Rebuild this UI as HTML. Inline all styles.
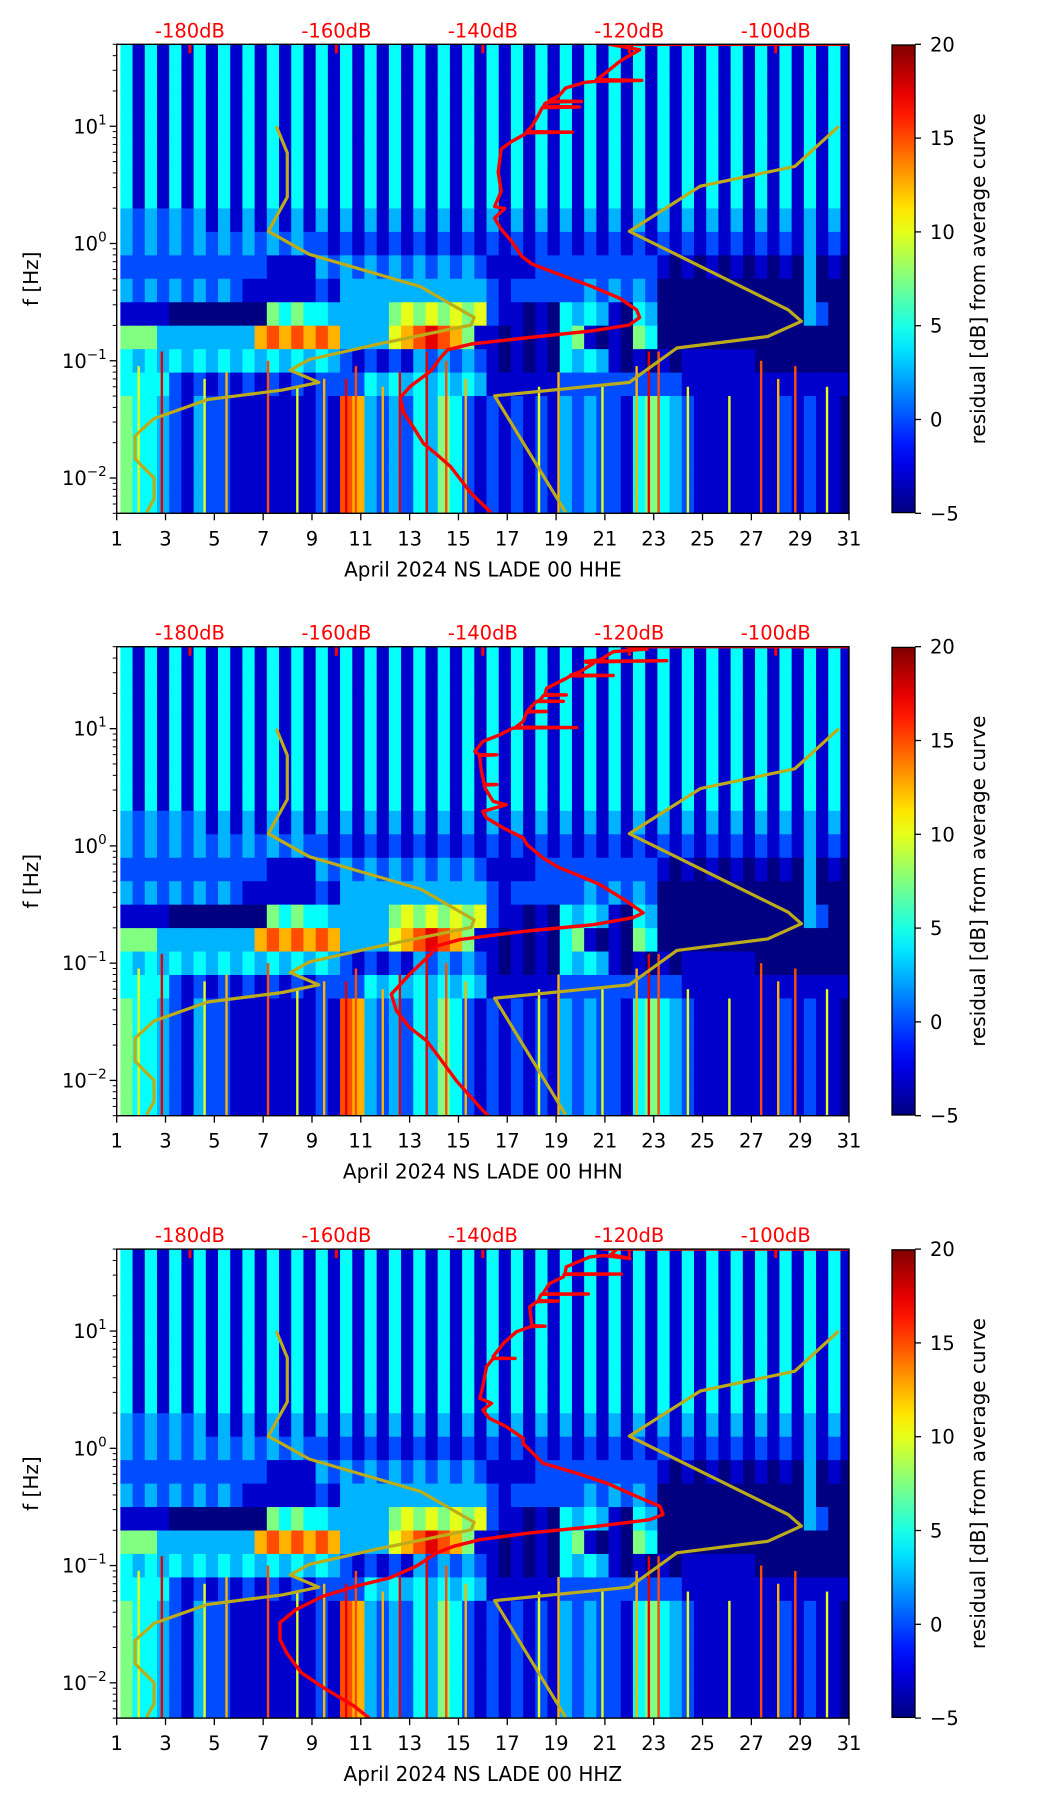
<!DOCTYPE html>
<html><head><meta charset="utf-8">
<style>
html,body{margin:0;padding:0;background:#fff;}
svg{display:block;font-family:"DejaVu Sans","Liberation Sans",sans-serif;}
</style></head>
<body>
<svg id="fig" width="1052" height="1806" viewBox="0 0 1052 1806" xmlns="http://www.w3.org/2000/svg">
<rect x="0" y="0" width="1052" height="1806" fill="#fff"/>
</svg>
<script>
// ---------- data ----------
const channels = ["HHE","HHN","HHZ"];
const dbLabels = [-180,-160,-140,-120,-100];
const xTicks = [1,3,5,7,9,11,13,15,17,19,21,23,25,27,29,31];
const yMajor = [0.01,0.1,1,10];
const yMajorExp = ["−2","−1","0","1"];
const cbTicks = [20,15,10,5,0,-5];
// spectrogram grid: 20 rows (0.2 decade each, top=50Hz) x 60 half-day columns, level 0-9
const specRows = [
"414141414141414141414141414141414141414141414141414141414141",
"414141414141414141414141414141414141414141414141414141414141",
"414141414141414141414141414141414141414141414141414141414141",
"414141414141414141414141414141414141414141414141414141414141",
"414141414141414141414141414141414141414141414141414141414141",
"414141414141414141414141414141414141414141414141414141414141",
"414141414141414141414141414141414141414141414141414141414141",
"323232313131313131313131313131313131313131313131313131313131",
"323232323232323221212121212121212121212121212121212121213121",
"222222222222111132323232323232111122222222221010101010103010",
"323232323211111121333333333333212222223232320000000000003000",
"111100000000545443333356565656211010434310430000000000003200",
"555333333337878787333367898751101010451010540000000000000000",
"434343434343434343212121323232101010434310101011111100000000",
"444421212121212122224343434343111111222222222211111111111111",
"544321322111111121873232435421212121323221454321111111212110",
"544321322111111121873232435421212121323221454321111111212110",
"544321322111111121873232435421212121323221454321111111212110",
"544321322111111121873232435421212121323221454321111111212110",
"544321322111111121873232435421212121323221454321111111212110"
];
const levelT = [0,0.075,0.2,0.3,0.38,0.5,0.6,0.7,0.8,0.9];
const streakDay = [1.9,2.85,4.6,5.5,7.2,8.4,9.5,10.4,10.8,11.9,12.6,13.7,14.5,15.3,18.3,19.1,20.9,22.3,22.8,23.2,24.4,26.1,27.4,28.1,28.8,30.1];
const streakLevel = [6,9,6,7,8,6,7,9,8,7,9,9,8,7,6,7,6,7,9,8,6,6,8,7,8,6];
const streakTop = [0.09,0.12,0.07,0.08,0.1,0.06,0.07,0.07,0.09,0.06,0.08,0.12,0.1,0.07,0.06,0.08,0.06,0.09,0.12,0.12,0.06,0.05,0.1,0.07,0.09,0.06];
// Peterson NLNM / NHNM (dB, Hz)
const nlnmDb = [-168.2,-166.7,-166.7,-169.3,-163.7,-148.5,-141.2,-141.6,-154.5,-163.7,-166.3,-162.4,-167.4,-177.6,-184.9,-187.5,-187.5,-184.9,-184.9,-185.9];
const nlnmHz = [10,5.92,2.49,1.27,0.809,0.428,0.234,0.202,0.138,0.1025,0.0831,0.0654,0.0562,0.0466,0.0321,0.0229,0.0146,0.01,0.00662,0.0051];
const nhnmDb = [-91.4,-97.4,-110.3,-120.0,-98.3,-96.5,-101.1,-113.5,-120.0,-138.4,-128.7];
const nhnmHz = [10,4.55,3.08,1.27,0.272,0.217,0.161,0.1285,0.0654,0.0502,0.0051];
// average curves per channel
const redDb1 = [-90,-122.7,-118.6,-121.3,-123.2,-124.5,-118.3,-124.5,-126,-128.7,-129.6,-131,-126.5,-131,-131.5,-131.7,-126.8,-131.9,-132.4,-133.3,-134,-127.8,-134.1,-134.2,-136.1,-137.5,-137.9,-137.5,-138.4,-137,-138.4,-137.5,-136.1,-134.7,-133.3,-130.6,-127.8,-125,-121.3,-119,-118.6,-120,-125,-132.4,-141.6,-144.8,-145.8,-147.1,-149.9,-151.3,-150.8,-149.4,-148.1,-146.2,-144.4,-141.6,-138.9];
const redHz1 = [50,50,44.9,35.8,28.6,25,24.6,24.2,23.7,21.2,18.2,16.5,16.3,16.1,15.7,14.8,14.6,14.4,12.5,10,9.0,8.9,8.8,8.6,7.4,6.4,4.06,2.79,2.07,1.99,1.65,1.32,1.05,0.778,0.67,0.576,0.496,0.427,0.341,0.272,0.234,0.202,0.18,0.161,0.139,0.124,0.106,0.0818,0.0607,0.0484,0.0359,0.0266,0.0197,0.0157,0.0125,0.0074,0.0051];
const redDb2 = [-90,-120.4,-119,-117.6,-122.2,-124,-126,-114.9,-126,-124.9,-126.7,-128,-122.2,-128,-128.6,-131.3,-131.5,-128.6,-131.7,-132.2,-132.5,-129,-132.7,-133.6,-133.9,-131.3,-134,-134.5,-135.5,-127.2,-135.7,-135.9,-137.7,-140,-141.1,-140.5,-138.1,-140.5,-140.4,-140.2,-139.8,-138.1,-139.8,-139.7,-138.6,-136.8,-140,-139.5,-137.2,-134.5,-134,-131.8,-129.5,-127.2,-124,-120.4,-118.1,-119.5,-124.9,-134,-143.1,-146.3,-147.2,-150,-152.5,-151.8,-150,-147.7,-146.3,-143.6,-140.4,-139.3];
const redHz2 = [50,50,50,47.8,45.3,38.5,37.5,38,37,36,30.6,28.6,28.4,28.2,26.9,22.1,19.6,19.4,19.2,17.6,17.2,17.1,17,14.9,14.1,14,13.9,11.5,10.3,10.2,10.1,10.1,8.86,7.77,6.38,6.0,5.99,5.9,5.6,4.32,3.35,3.33,3.3,3.12,2.4,2.24,1.97,1.73,1.42,1.17,1.03,0.79,0.649,0.569,0.468,0.338,0.269,0.244,0.213,0.188,0.159,0.14,0.118,0.0803,0.0543,0.0392,0.0283,0.0218,0.0168,0.0099,0.0059,0.005];
const redDb3 = [-90,-123.6,-121.7,-122.5,-119.9,-123.5,-125.4,-128.6,-128.8,-121.1,-128.9,-129,-130.9,-131.8,-125.6,-132,-132.2,-132.4,-129.7,-132.6,-133.6,-133.4,-133.3,-131.5,-133.5,-135.4,-137.2,-138.6,-138.4,-135.6,-138.6,-139.5,-140,-140.4,-138.8,-140,-139.1,-136.8,-134.5,-134.5,-131.8,-127.2,-123.1,-119,-115.8,-115.4,-117.2,-124.5,-133.6,-140.4,-144,-146.3,-149.1,-152.7,-157.3,-161.8,-165.5,-167.7,-167.7,-166.8,-164.8,-161.4,-157.7,-155.5];
const redHz3 = [50,50,50,45,41.5,44,42.9,35.3,30.8,30.6,30.4,29,25.4,20.8,20.7,20.6,19.6,18.2,18.0,17.8,16.1,12.4,11.1,11,10.9,9.87,7.85,6.05,5.88,5.85,5.82,4.97,3.36,2.67,2.42,2.12,1.8,1.53,1.22,1.1,0.747,0.614,0.505,0.389,0.32,0.272,0.246,0.216,0.19,0.166,0.146,0.128,0.0987,0.0785,0.0668,0.0549,0.0422,0.0326,0.0234,0.018,0.0122,0.0088,0.0064,0.005];
const redDb = [redDb1, redDb2, redDb3];
const redHz = [redHz1, redHz2, redHz3];

// ---------- layout ----------
const NS = "http://www.w3.org/2000/svg";
const svg = document.getElementById("fig");
const PL = 116.7, PR = 849, PH = 469;
const panelTops = [44.3, 646.7, 1249.1];
const CBL = 892, CBR = 915;
const FMIN = 0.005, FMAX = 50;
const specStart = 1.15;
function xDay(d){ return PL + (d-1)*(PR-PL)/30; }
function xDb(db){ return xDay(4 + (db+180)*6/20); }
function yF(top, f){ return top + (Math.log10(FMAX)-Math.log10(f))/(Math.log10(FMAX)-Math.log10(FMIN))*PH; }
function jet(t){
  const c = v => Math.max(0, Math.min(1, v));
  const r = c(1.5-Math.abs(4*t-3)), g = c(1.5-Math.abs(4*t-2)), b = c(1.5-Math.abs(4*t-1));
  return "rgb("+Math.round(r*255)+","+Math.round(g*255)+","+Math.round(b*255)+")";
}
function levelColor(L){ return jet(levelT[L]); }
function el(tag, attrs, parent){
  const e = document.createElementNS(NS, tag);
  for (const k in attrs) e.setAttribute(k, attrs[k]);
  (parent||svg).appendChild(e);
  return e;
}

const defs = el("defs", {});
const grad = el("linearGradient", {id:"jetgrad", x1:"0", y1:"1", x2:"0", y2:"0"}, defs);
for (let i=0;i<=20;i++){ el("stop", {offset:(i/20).toString(), "stop-color":jet(i/20)}, grad); }

channels.forEach((ch, p) => {
  const top = panelTops[p], bot = top + PH;
  const g = el("g", {});
  
  
  const clip = el("clipPath", {id:"clip"+p}, defs);
  el("rect", {x:PL, y:top, width:PR-PL, height:PH}, clip);

  const spec = el("g", {"clip-path":"url(#clip"+p+")"}, g);
  
  
  specRows.forEach((row, r) => {
    const fHi = FMAX*Math.pow(10, -0.2*r), fLo = FMAX*Math.pow(10, -0.2*(r+1));
    const y0 = yF(top, fHi), y1 = yF(top, fLo);
    for (let i=0;i<row.length;i++){
      const d0 = Math.max(1, specStart + i*0.5), d1 = Math.min(31, specStart + (i+1)*0.5);
      const x0 = xDay(d0), x1 = xDay(d1);
      const c = el("rect", {x:x0, y:y0, width:x1-x0+0.6, height:y1-y0+0.6, fill:levelColor(+row[i])}, spec);
      
      
    }
  });
  streakDay.forEach((d, i) => {
    const x = xDay(d), y0 = yF(top, streakTop[i]);
    const s = el("rect", {x:x-1.2, y:y0, width:2.4, height:bot-y0, fill:levelColor(streakLevel[i])}, spec);
    
    
  });

  const curveG = el("g", {"clip-path":"url(#clip"+p+")"}, g);
  const mk = (dbs, hzs) => dbs.map((d,i)=>xDb(d).toFixed(1)+","+yF(top,hzs[i]).toFixed(1)).join(" ");
  const nl = el("polyline", {points:mk(nlnmDb,nlnmHz), fill:"none", stroke:"#bdac1a", "stroke-width":3.2, "stroke-linejoin":"round"}, curveG);
  
  
  const nh = el("polyline", {points:mk(nhnmDb,nhnmHz), fill:"none", stroke:"#bdac1a", "stroke-width":3.2, "stroke-linejoin":"round"}, curveG);
  
  
  const rc = el("polyline", {points:mk(redDb[p],redHz[p]), fill:"none", stroke:"#ff0000", "stroke-width":3.4, "stroke-linejoin":"round"}, curveG);
  
  

  dbLabels.forEach(db => {
    const x = xDb(db);
    const tk = el("line", {x1:x, x2:x, y1:top, y2:top+9, stroke:"#ff0000", "stroke-width":3}, g);
    
    
    const t = el("text", {x:x, y:top-7, "text-anchor":"middle", "font-size":19.5, fill:"#ff0000"}, g);
    t.textContent = db + "dB";
    
    
  });

  const fr = el("rect", {x:PL, y:top, width:PR-PL, height:PH, fill:"none", stroke:"#000", "stroke-width":1.4}, g);
  
  

  xTicks.forEach(d => {
    const x = xDay(d);
    el("line", {x1:x, x2:x, y1:bot, y2:bot+7, stroke:"#000", "stroke-width":1.3}, g);
    const t = el("text", {x:x, y:bot+32, "text-anchor":"middle", "font-size":19.5, fill:"#000"}, g);
    t.textContent = d;
    
    
  });
  const xl = el("text", {x:(PL+PR)/2, y:bot+63, "text-anchor":"middle", "font-size":20, fill:"#000"}, g);
  xl.textContent = "April 2024 NS LADE 00 " + ch;
  
  

  for (let k=-3;k<=1;k++){
    for (let m=1;m<=9;m++){
      const f = m*Math.pow(10,k);
      if (f < FMIN-1e-9 || f > FMAX+1e-9) continue;
      const y = yF(top, f);
      el("line", {x1:PL, x2:PL-(m===1?7:4), y1:y, y2:y, stroke:"#000", "stroke-width":m===1?1.3:1}, g);
    }
  }
  yMajor.forEach((f,i) => {
    const y = yF(top, f);
    const t = el("text", {x:PL-10, y:y+7, "text-anchor":"end", "font-size":19.5, fill:"#000"}, g);
    const a = el("tspan", {}, t); a.textContent = "10";
    const b = el("tspan", {"font-size":13.5, dy:-9}, t); b.textContent = yMajorExp[i];
    
    
  });
  const yl = el("text", {x:0, y:0, "text-anchor":"middle", "font-size":20, fill:"#000", transform:"translate(38,"+(top+PH/2)+") rotate(-90)"}, g);
  yl.textContent = "f [Hz]";
  
  

  const cb = el("rect", {x:CBL, y:top+0.7, width:CBR-CBL, height:PH-1.4, fill:"url(#jetgrad)", stroke:"#000", "stroke-width":1.3}, g);
  
  
  cbTicks.forEach(v => {
    const y = top + (20-v)/25*PH;
    el("line", {x1:CBR, x2:CBR+6, y1:y, y2:y, stroke:"#000", "stroke-width":1.3}, g);
    const t = el("text", {x:CBR+15, y:y+7, "font-size":19.5, fill:"#000"}, g);
    t.textContent = v < 0 ? "−" + Math.abs(v) : String(v);
    
    
  });
  const cl = el("text", {x:0, y:0, "text-anchor":"middle", "font-size":20, fill:"#000", transform:"translate(985,"+(top+PH/2)+") rotate(-90)"}, g);
  cl.textContent = "residual [dB] from average curve";
  
  
});
</script>
</body></html>
